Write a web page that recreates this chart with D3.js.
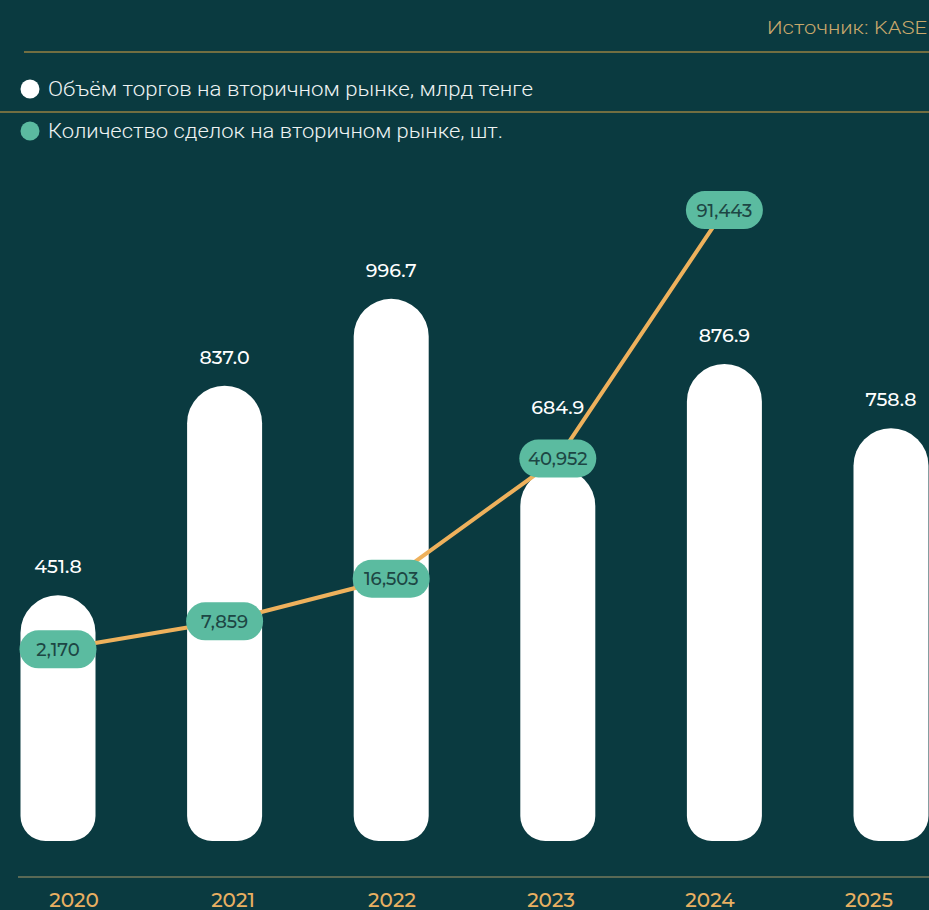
<!DOCTYPE html>
<html>
<head>
<meta charset="utf-8">
<script src="https://d3js.org/d3.v7.min.js"></script>
<style>
  html, body { margin: 0; padding: 0; background: #0a3a40; }
  svg { display: block; }
</style>
</head>
<body>
<div id="chart"></div>
<script>
// chart data
var years = ["2020", "2021", "2022", "2023", "2024", "2025"];
var volume = [451.8, 837.0, 996.7, 684.9, 876.9, 758.8];       // млрд тенге
var deals = [2170, 7859, 16503, 40952, 91443, null];           // шт.
var legendLabels = ["Объём торгов на вторичном рынке, млрд тенге",
                    "Количество сделок на вторичном рынке, шт."];
var sourceLabel = "Источник: KASE";

var width = 929, height = 910;
var font = "Montserrat, Inter, 'Noto Sans', sans-serif";

var svg = d3.select("#chart").append("svg")
    .attr("width", width)
    .attr("height", height);

svg.append("rect").attr("width", width).attr("height", height).attr("fill", "#0a3a40");

// header
svg.append("text")
    .attr("x", 927).attr("y", 34)
    .attr("text-anchor", "end")
    .attr("font-family", "Roboto, sans-serif")
    .attr("font-size", 19)
    .attr("font-weight", 300)
    .attr("fill", "#c9a86c")
    .attr("textLength", 160).attr("lengthAdjust", "spacingAndGlyphs")
    .text(sourceLabel);

svg.append("line").attr("x1", 24).attr("x2", width).attr("y1", 52).attr("y2", 52)
    .attr("stroke", "#d9a243").attr("stroke-width", 1.2);
svg.append("line").attr("x1", 0).attr("x2", width).attr("y1", 112).attr("y2", 112)
    .attr("stroke", "#d9a243").attr("stroke-width", 1.2);

// legend
var legendColors = ["#ffffff", "#5bbaa0"];
var legendY = [89, 131];
var legendW = [485, 455];
legendLabels.forEach(function(l, i) {
  svg.append("circle").attr("cx", 30).attr("cy", legendY[i]).attr("r", 9.5).attr("fill", legendColors[i]);
  svg.append("text")
    .attr("x", 48).attr("y", legendY[i] + 7)
    .attr("font-family", "Roboto, sans-serif")
    .attr("font-size", 21)
    .attr("font-weight", 300)
    .attr("fill", "#eef3f3")
    .attr("textLength", legendW[i]).attr("lengthAdjust", "spacingAndGlyphs")
    .text(l);
});

// scales
var x = d3.scalePoint().domain(years).range([58, 891]);
var xLab = d3.scalePoint().domain(years).range([74, 869]);
var y = d3.scaleLinear().domain([0, 1000]).range([841, 297]);
var y2 = d3.scaleLinear().domain([0, 100000]).range([660, 168]);
var barW = 75;
var pw = 77, ph = 38;

function barPath(cx, top, bottom) {
  var r1 = barW / 2, r2 = 25;
  var p = d3.path();
  var l = cx - barW / 2, rr = cx + barW / 2;
  p.moveTo(l, top + r1);
  p.arc(cx, top + r1, r1, Math.PI, 0);
  p.lineTo(rr, bottom - r2);
  p.arcTo(rr, bottom, rr - r2, bottom, r2);
  p.lineTo(l + r2, bottom);
  p.arcTo(l, bottom, l, bottom - r2, r2);
  p.closePath();
  return p.toString();
}

// bars
svg.append("g").selectAll("path")
  .data(years)
  .enter().append("path")
    .attr("d", function(d, i) { return barPath(x(d), y(volume[i]), y(0)); })
    .attr("fill", "#ffffff");

// bar labels (pushed above the pill when it sits on the bar top)
function labelY(i) {
  var ly = y(volume[i]) - 22;
  if (deals[i] != null) {
    var pillTop = y2(deals[i]) - ph / 2;
    if (pillTop < y(volume[i]) + 10 && pillTop > y(volume[i]) - 40) ly = Math.min(ly, pillTop - 26);
  }
  return ly;
}
svg.append("g").selectAll("text")
  .data(years)
  .enter().append("text")
    .attr("x", function(d) { return x(d); })
    .attr("y", function(d, i) { return labelY(i); })
    .attr("text-anchor", "middle")
    .attr("font-family", font)
    .attr("font-size", 19)
    .attr("font-weight", 500)
    .attr("fill", "#ffffff")
    .text(function(d, i) { return volume[i].toFixed(1); });

// line
var pts = years.map(function(d, i) { return {year: d, v: deals[i]}; })
  .filter(function(d) { return d.v != null; });

var line = d3.line()
    .x(function(d) { return x(d.year); })
    .y(function(d) { return y2(d.v); });

svg.append("path")
    .datum(pts)
    .attr("d", line)
    .attr("fill", "none")
    .attr("stroke", "#eeb15c")
    .attr("stroke-width", 4);

// pills
var pill = svg.append("g").selectAll("g")
  .data(pts)
  .enter().append("g")
    .attr("transform", function(d) { return "translate(" + x(d.year) + "," + y2(d.v) + ")"; });
pill.append("rect")
    .attr("x", -pw / 2).attr("y", -ph / 2)
    .attr("width", pw).attr("height", ph)
    .attr("rx", ph / 2)
    .attr("fill", "#5bbba0");
pill.append("text")
    .attr("y", 6.5)
    .attr("text-anchor", "middle")
    .attr("font-family", font)
    .attr("font-size", 18)
    .attr("font-weight", 500)
    .attr("fill", "#1d4644")
    .text(function(d) { return d3.format(",")(d.v); });

// x axis
svg.append("line").attr("x1", 18).attr("x2", width).attr("y1", 877).attr("y2", 877)
    .attr("stroke", "#a7976a").attr("stroke-width", 1.2);

svg.append("g").selectAll("text")
  .data(years)
  .enter().append("text")
    .attr("x", function(d) { return xLab(d); })
    .attr("y", 907)
    .attr("text-anchor", "middle")
    .attr("font-family", font)
    .attr("font-size", 20)
    .attr("font-weight", 500)
    .attr("fill", "#e9b062")
    .text(function(d) { return d; });
</script>
</body>
</html>
